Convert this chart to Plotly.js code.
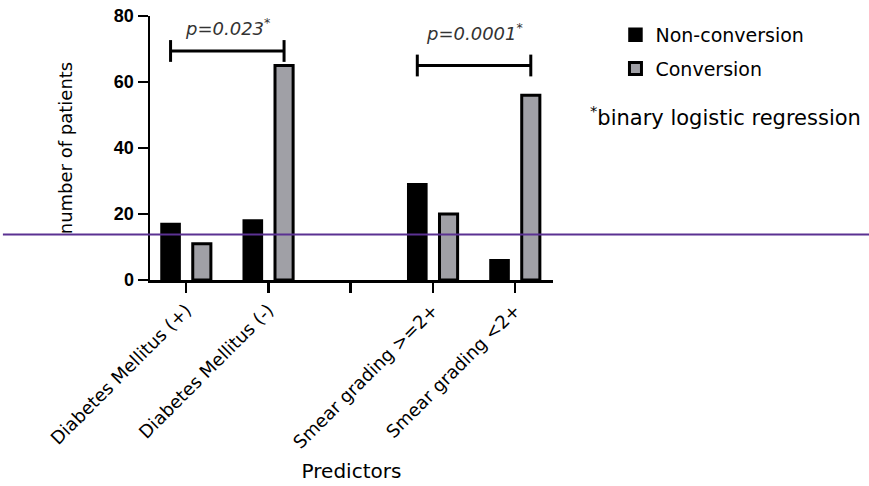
<!DOCTYPE html>
<html>
<head>
<meta charset="utf-8">
<script src="https://cdn.plot.ly/plotly-3.0.1.min.js"></script>
<style>html,body{margin:0;padding:0;background:#fff;}#chart{width:869px;height:486px;}</style>
</head>
<body>
<div id="chart"></div>
<script>
// ---- data ----
const categories = ["Diabetes Mellitus (+)", "Diabetes Mellitus (-)", " ", "Smear grading >=2+", "Smear grading <2+"];
const nonConversion = [17, 18, null, 29, 6];
const conversion = [11, 65, null, 20, 56];
const seriesNames = ["Non-conversion", "Conversion"];
const pLabels = ["p=0.023", "p=0.0001"];
// comparison brackets: from category index, to category index, bracket height, label height
const bracketFrom = [0, 3];
const bracketTo = [1, 4];
const bracketHeight = [69.4, 65];
const pLabelHeight = [76.8, 75.2];
const overlayLineValue = 13.8;
const yMax = 80;

// ---- styling ----
const F = "DejaVu Sans, Liberation Sans, Arial, sans-serif";
const xIdx = categories.map((c, i) => i);
const barOffset = 0.19;

const traces = [
  {
    type: "bar", name: seriesNames[0], x: xIdx, y: nonConversion,
    marker: {color: "#000000", line: {color: "#000000", width: 2.5}},
    legendgroup: "a", hoverinfo: "skip"
  },
  {
    type: "bar", name: seriesNames[1], x: xIdx, y: conversion,
    marker: {color: "#a0a0a6", line: {color: "#000000", width: 3}},
    legendgroup: "b", hoverinfo: "skip"
  }
];

const shapes = [];
const annotations = [];
for (let k = 0; k < bracketFrom.length; k++) {
  const x0 = bracketFrom[k] - barOffset;
  const x1 = bracketTo[k] + barOffset;
  const h = bracketHeight[k];
  const lineSt = {color: "#000", width: 3};
  shapes.push({type: "line", xref: "x", yref: "y", x0: x0, x1: x1, y0: h, y1: h, line: lineSt});
  shapes.push({type: "line", xref: "x", yref: "y", x0: x0, x1: x0, y0: h - 3.3, y1: h + 3.3, line: lineSt});
  shapes.push({type: "line", xref: "x", yref: "y", x0: x1, x1: x1, y0: h - 3.3, y1: h + 3.3, line: lineSt});
  annotations.push({
    xref: "x", yref: "y", x: (x0 + x1) / 2, y: pLabelHeight[k], showarrow: false,
    text: "<i>" + pLabels[k] + "</i><sup>*</sup>",
    font: {family: F, size: 18, color: "#333"}, xanchor: "center", yanchor: "middle"
  });
}
// overlay horizontal line spanning the image
shapes.push({type: "line", xref: "paper", yref: "paper", x0: -0.365, x1: 1.8,
  y0: overlayLineValue / yMax, y1: overlayLineValue / yMax,
  line: {color: "#5b3192", width: 2}, layer: "above"});

annotations.push({
  xref: "paper", yref: "paper", x: 1.087, y: 0.62, xanchor: "left", yanchor: "middle",
  showarrow: false, text: "<sup>*</sup>binary logistic regression",
  font: {family: F, size: 21, color: "#000"}
});

const layout = {
  width: 869, height: 486,
  margin: {l: 150, r: 316, t: 16, b: 206, pad: 0},
  paper_bgcolor: "#fff", plot_bgcolor: "#fff",
  barmode: "group", bargap: 0.24, bargroupgap: 0.42,
  showlegend: true,
  legend: {x: 1.155, xanchor: "left", y: 1.0, yanchor: "top",
    font: {family: F, size: 19, color: "#000"}, traceorder: "grouped", tracegroupgap: 6,
    bgcolor: "rgba(0,0,0,0)"},
  xaxis: {
    type: "linear", range: [-0.44, 4.46], tickmode: "array", tickvals: xIdx, ticktext: categories,
    tickangle: -45, tickfont: {family: F, size: 18, color: "#000"},
    showline: true, linecolor: "#000", linewidth: 2.5, ticks: "outside", ticklen: 10, tickwidth: 2.5,
    tickcolor: "#000", showgrid: false, zeroline: false, automargin: false,
    title: {text: "Predictors", font: {family: F, size: 20, color: "#000"}, standoff: 13}
  },
  yaxis: {
    range: [0, yMax], tickmode: "linear", tick0: 0, dtick: 20,
    tickfont: {family: "Liberation Sans, Arial, sans-serif", size: 18, color: "#000", weight: "bold"},
    showline: true, linecolor: "#000", linewidth: 2.5, ticks: "outside", ticklen: 10, tickwidth: 2.5,
    tickcolor: "#000", showgrid: false, zeroline: false, automargin: false,
    title: {text: "number of patients", font: {family: F, size: 18, color: "#000"}, standoff: 37}
  },
  shapes: shapes,
  annotations: annotations
};

Plotly.newPlot("chart", traces, layout, {displayModeBar: false, staticPlot: true});
</script>
</body>
</html>
